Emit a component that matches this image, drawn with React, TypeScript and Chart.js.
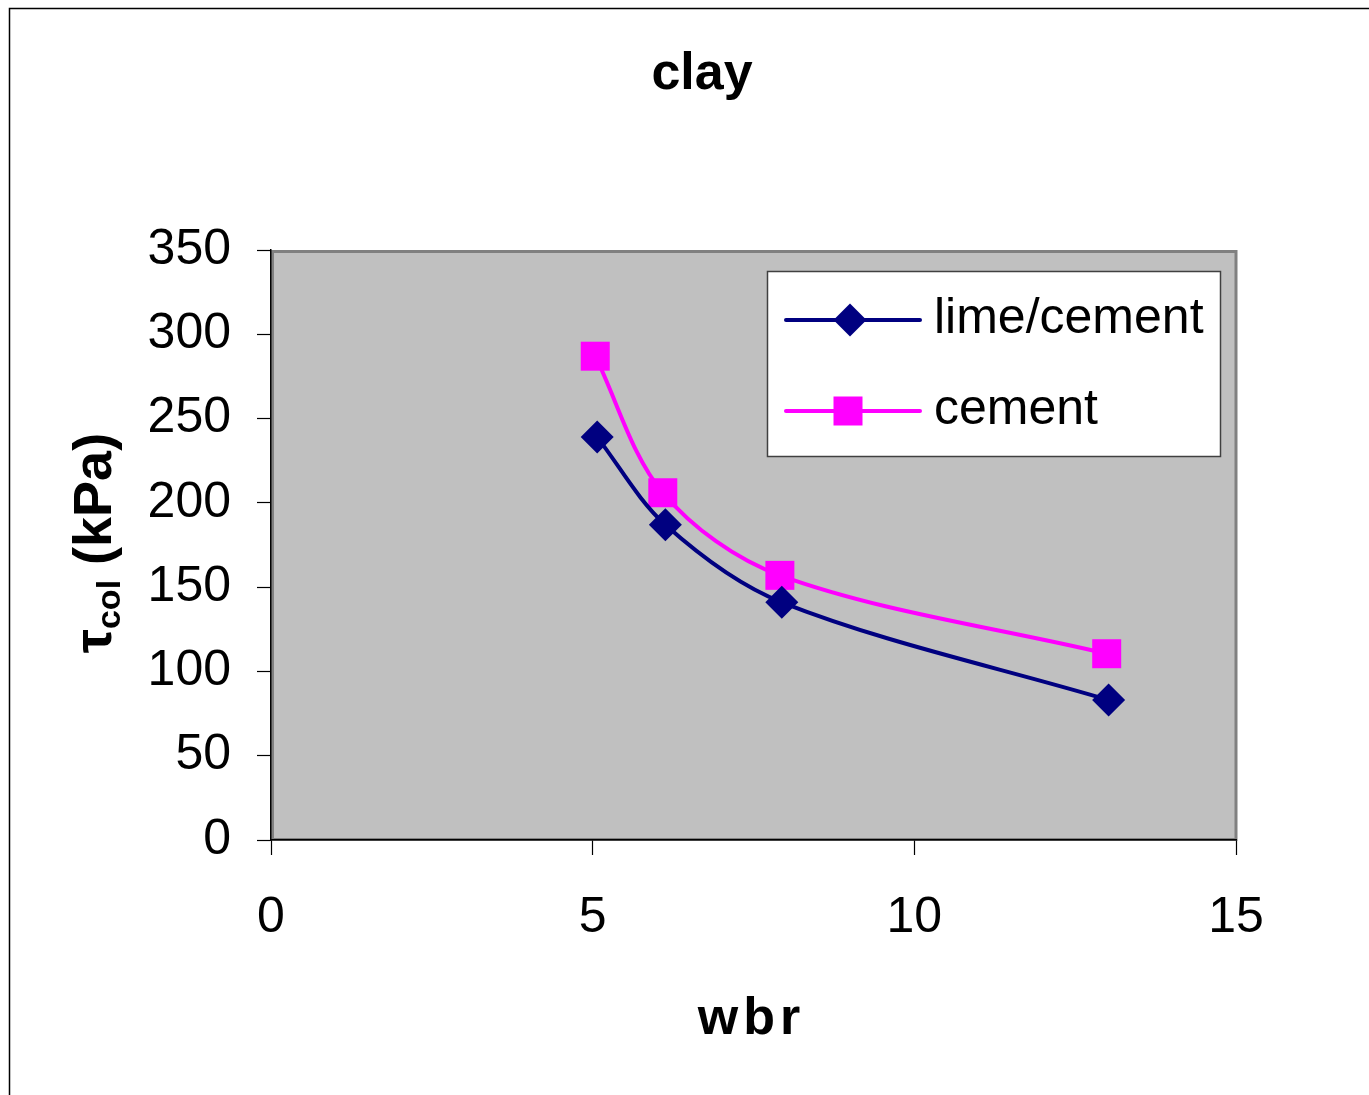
import React, { useEffect, useRef } from "react";
import { Chart, registerables } from "chart.js";

Chart.register(...registerables);

// Water/binder ratio vs. column shear strength for clay
const wbrLimeCement = [5.07, 6.13, 7.94, 13.02];
const tauLimeCement = [239, 187, 141, 83];
const wbrCement = [5.04, 6.09, 7.91, 12.99];
const tauCement = [287, 206, 157, 110.5];
const seriesNames = ["lime/cement", "cement"];
const seriesColors = ["#000080", "#FF00FF"];
const xTickValues = [0, 5, 10, 15];
const yTickValues = [0, 50, 100, 150, 200, 250, 300, 350];
const chartTitle = "clay";
const xAxisTitle = "wbr";

const FONT = '"Liberation Sans", Arial, Helvetica, sans-serif';

function drawDiamond(ctx: CanvasRenderingContext2D, x: number, y: number, r: number, color: string) {
  ctx.beginPath();
  ctx.moveTo(x, y - r);
  ctx.lineTo(x + r, y);
  ctx.lineTo(x, y + r);
  ctx.lineTo(x - r, y);
  ctx.closePath();
  ctx.fillStyle = color;
  ctx.fill();
}

function drawSquare(ctx: CanvasRenderingContext2D, x: number, y: number, half: number, color: string) {
  ctx.fillStyle = color;
  ctx.fillRect(x - half, y - half, half * 2, half * 2);
}

const decorPlugin = {
  id: "decor",
  beforeDraw(chart: any) {
    const { ctx, chartArea: a } = chart;
    ctx.save();
    ctx.fillStyle = "#ffffff";
    ctx.fillRect(0, 0, chart.width, chart.height);
    // outer frame (top and left edges)
    ctx.strokeStyle = "#000000";
    ctx.lineWidth = 1.5;
    ctx.beginPath();
    ctx.moveTo(9.5, chart.height);
    ctx.lineTo(9.5, 8.5);
    ctx.lineTo(chart.width, 8.5);
    ctx.stroke();
    // plot area
    ctx.fillStyle = "#C0C0C0";
    ctx.fillRect(a.left, a.top, a.right - a.left, a.bottom - a.top);
    ctx.strokeStyle = "#808080";
    ctx.lineWidth = 3;
    ctx.strokeRect(a.left + 1.5, a.top + 1.5, a.right - a.left - 1.5, a.bottom - a.top - 2);
    ctx.restore();
  },
  afterDatasetsDraw(chart: any) {
    const { ctx, chartArea: a } = chart;
    ctx.save();
    // legend box
    const bw = 453;
    const bh = 185;
    const bx = a.right - 16 - bw;
    const by = a.top + 21;
    ctx.fillStyle = "#ffffff";
    ctx.fillRect(bx, by, bw, bh);
    ctx.strokeStyle = "#404040";
    ctx.lineWidth = 1.5;
    ctx.strokeRect(bx + 0.5, by + 0.5, bw, bh);
    const rows = [by + 49, by + 140];
    rows.forEach((ry, i) => {
      ctx.strokeStyle = seriesColors[i];
      ctx.lineWidth = 4;
      ctx.lineCap = "round";
      ctx.beginPath();
      ctx.moveTo(bx + 19, ry);
      ctx.lineTo(bx + 153, ry);
      ctx.stroke();
      if (i === 0) drawDiamond(ctx, bx + 83, ry, 16.5, seriesColors[i]);
      else drawSquare(ctx, bx + 81, ry, 14.5, seriesColors[i]);
      ctx.fillStyle = "#000000";
      ctx.font = `50px ${FONT}`;
      ctx.textAlign = "left";
      ctx.textBaseline = "middle";
      ctx.fillText(seriesNames[i], bx + 167, ry - 1);
    });
    ctx.restore();
  },
  afterDraw(chart: any) {
    const { ctx, chartArea: a } = chart;
    ctx.save();
    ctx.fillStyle = "#000000";
    ctx.textAlign = "center";
    ctx.textBaseline = "middle";
    ctx.font = `bold 52px ${FONT}`;
    ctx.fillText(chartTitle, 702, 75);
    (ctx as any).letterSpacing = "5px";
    ctx.fillText(xAxisTitle, (a.left + a.right) / 2 - 2, 1020);
    (ctx as any).letterSpacing = "0px";

    // y-axis title: τ with subscript "col", then (kPa)
    ctx.translate(92, 543);
    ctx.rotate(-Math.PI / 2);
    const mainFont = `bold 54px ${FONT}`;
    const subFont = `bold 34px ${FONT}`;
    ctx.font = mainFont;
    const wTau = ctx.measureText("τ").width;
    const wRest = ctx.measureText(" (kPa)").width;
    ctx.font = subFont;
    const wSub = ctx.measureText("col").width;
    const total = wTau + wSub + wRest;
    let x = -total / 2;
    ctx.textAlign = "left";
    ctx.textBaseline = "alphabetic";
    const base = 19;
    ctx.font = mainFont;
    ctx.fillText("τ", x, base);
    x += wTau;
    ctx.font = subFont;
    ctx.fillText("col", x, base + 9);
    x += wSub;
    ctx.font = mainFont;
    ctx.fillText(" (kPa)", x, base);
    ctx.restore();
  },
};

export default function App() {
  const canvasRef = useRef<HTMLCanvasElement | null>(null);

  useEffect(() => {
    document.body.style.margin = "0";
    document.body.style.overflow = "hidden";
    const canvas = canvasRef.current;
    if (!canvas) return;

    const chart = new Chart(canvas, {
      type: "line",
      data: {
        datasets: [
          {
            label: seriesNames[0],
            data: wbrLimeCement.map((x, i) => ({ x, y: tauLimeCement[i] })),
            borderColor: seriesColors[0],
            backgroundColor: seriesColors[0],
            borderWidth: 4,
            pointStyle: "rectRot",
            pointRadius: 16.5,
            pointBorderWidth: 0,
            tension: 0.33,
            fill: false,
          },
          {
            label: seriesNames[1],
            data: wbrCement.map((x, i) => ({ x, y: tauCement[i] })),
            borderColor: seriesColors[1],
            backgroundColor: seriesColors[1],
            borderWidth: 4,
            pointStyle: "rect",
            pointRadius: 20.5,
            pointBorderWidth: 0,
            tension: 0.33,
            fill: false,
          },
        ],
      },
      options: {
        responsive: false,
        animation: false,
        layout: { padding: { left: 0, top: 250, right: 133, bottom: 0 } },
        plugins: {
          legend: { display: false },
          title: { display: false },
          tooltip: { enabled: false },
        },
        scales: {
          x: {
            type: "linear",
            min: 0,
            max: 15,
            afterFit: (scale: any) => {
              scale.height = 255;
            },
            afterBuildTicks: (scale: any) => {
              scale.ticks = xTickValues.map((v) => ({ value: v }));
            },
            ticks: {
              font: { family: FONT, size: 50 },
              color: "#000000",
              padding: 33,
              maxRotation: 0,
            },
            grid: {
              drawOnChartArea: false,
              drawTicks: true,
              tickLength: 15,
              tickColor: "#000000",
              tickWidth: 1.2,
            },
            border: { color: "#000000", width: 1.5 },
          },
          y: {
            type: "linear",
            min: 0,
            max: 350,
            afterFit: (scale: any) => {
              scale.width = 271;
            },
            afterBuildTicks: (scale: any) => {
              scale.ticks = yTickValues.map((v) => ({ value: v }));
            },
            ticks: {
              font: { family: FONT, size: 50 },
              color: "#000000",
              padding: 26,
            },
            grid: {
              drawOnChartArea: false,
              drawTicks: true,
              tickLength: 14,
              tickColor: "#000000",
              tickWidth: 1.2,
            },
            border: { color: "#000000", width: 1.5 },
          },
        },
      },
      plugins: [decorPlugin],
    });

    return () => chart.destroy();
  }, []);

  return (
    <div style={{ width: 1369, height: 1095 }}>
      <canvas ref={canvasRef} width={1369} height={1095} style={{ display: "block" }} />
    </div>
  );
}
